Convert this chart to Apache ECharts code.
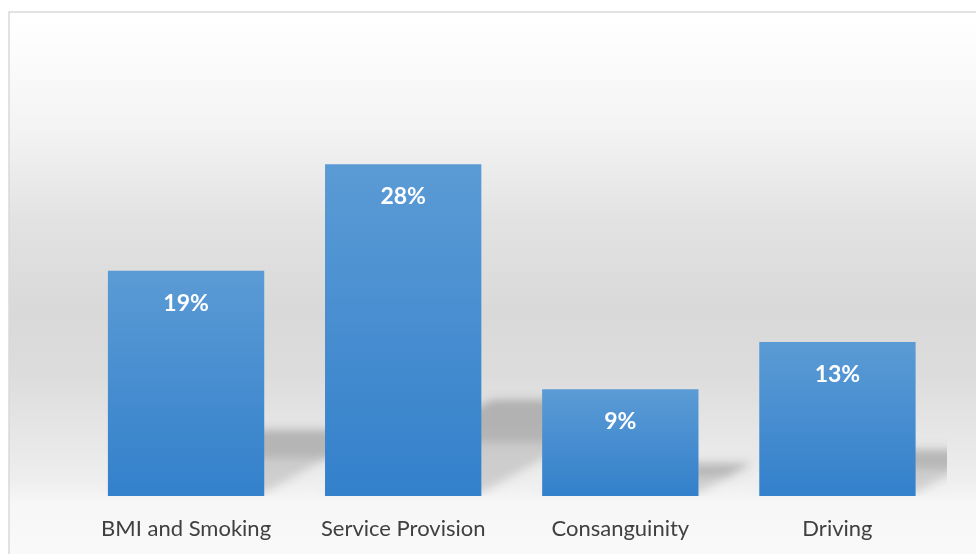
<!DOCTYPE html>
<html>
<head>
<meta charset="utf-8">
<script src="https://cdn.jsdelivr.net/npm/echarts@6/dist/echarts.min.js"></script>
<style>
html,body{margin:0;padding:0;background:#fff;}
#c{width:976px;height:554px;}
</style>
</head>
<body>
<div id="c"></div>
<script>
var categories = ['BMI and Smoking', 'Service Provision', 'Consanguinity', 'Driving'];
var values = [19, 28, 9, 13];
var yMax = 30;

var chart = echarts.init(document.getElementById('c'), null, {renderer: 'canvas'});

var shadowData = values.map(function (v, i) { return [i, v]; });
var OFF = 1500;

function shifted(pts) {
  return pts.map(function (p) { return [p[0] - OFF, p[1]]; });
}

var option = {
  backgroundColor: '#ffffff',
  animation: false,
  graphic: [{
    type: 'rect',
    z: -10,
    silent: true,
    shape: {x: 9, y: 12, width: 1000, height: 600},
    style: {
      stroke: '#d9d9d9',
      lineWidth: 1.5,
      fill: new echarts.graphic.LinearGradient(0, 0, 0, 1, [
        {offset: 0, color: '#ffffff'},
        {offset: 0.05, color: '#fdfdfd'},
        {offset: 0.2, color: '#f3f3f3'},
        {offset: 0.35, color: '#e2e2e2'},
        {offset: 0.5, color: '#d9d9d9'},
        {offset: 0.6, color: '#dcdcdc'},
        {offset: 0.7, color: '#e6e6e6'},
        {offset: 0.78, color: '#eeeeee'},
        {offset: 0.82, color: '#f7f7f7'},
        {offset: 1, color: '#fcfcfc'}
      ])
    }
  }],
  grid: {left: 77.5, right: 30, top: 140.5, bottom: 58, containLabel: false},
  xAxis: {
    type: 'category',
    data: categories,
    axisLine: {show: false},
    axisTick: {show: false},
    axisLabel: {
      interval: 0,
      margin: 22,
      color: '#404040',
      fontFamily: 'Lato',
      fontSize: 22
    }
  },
  yAxis: {
    type: 'value',
    min: 0,
    max: yMax,
    show: false,
    splitLine: {show: false}
  },
  series: [{
    type: 'custom',
    z: 1,
    silent: true,
    clip: true,
    data: shadowData,
    renderItem: function (params, api) {
      var idx = api.value(0);
      var v = api.value(1);
      var base = api.coord([idx, 0]);
      var top = api.coord([idx, v]);
      var bw = api.size([1, 0])[0] * 0.72;
      var xl = base[0] - bw / 2, xr = base[0] + bw / 2;
      var yb = base[1] - 3;
      var h = base[1] - top[1];
      var s = 0.28 * h;
      var d = 1.8 * s;
      var full = [[xl, yb], [xr, yb], [xr + d, yb - s], [xl + d, yb - s]];
      var k = 0.55;
      var band = [[xl + d * k, yb - s * k], [xr + d * k, yb - s * k], [xr + d, yb - s], [xl + d, yb - s]];
      function el(pts, alpha, blur) {
        return {
          type: 'polygon',
          shape: {points: shifted(pts)},
          style: {
            fill: '#000',
            shadowBlur: blur,
            shadowOffsetX: OFF,
            shadowOffsetY: 0,
            shadowColor: 'rgba(0,0,0,' + alpha + ')'
          }
        };
      }
      return {
        type: 'group',
        children: [el(full, 0.13, 10), el(band, 0.10, 8)]
      };
    }
  }, {
    type: 'bar',
    z: 2,
    data: values,
    barWidth: '72%',
    itemStyle: {
      color: new echarts.graphic.LinearGradient(0, 0, 0, 1, [
        {offset: 0, color: '#5b9bd5'},
        {offset: 1, color: '#3380cb'}
      ])
    },
    label: {
      show: true,
      position: 'insideTop',
      distance: 21,
      formatter: '{c}%',
      color: '#ffffff',
      fontFamily: 'Lato',
      fontWeight: 'bold',
      fontSize: 23
    }
  }]
};
chart.setOption(option);
</script>
</body>
</html>
